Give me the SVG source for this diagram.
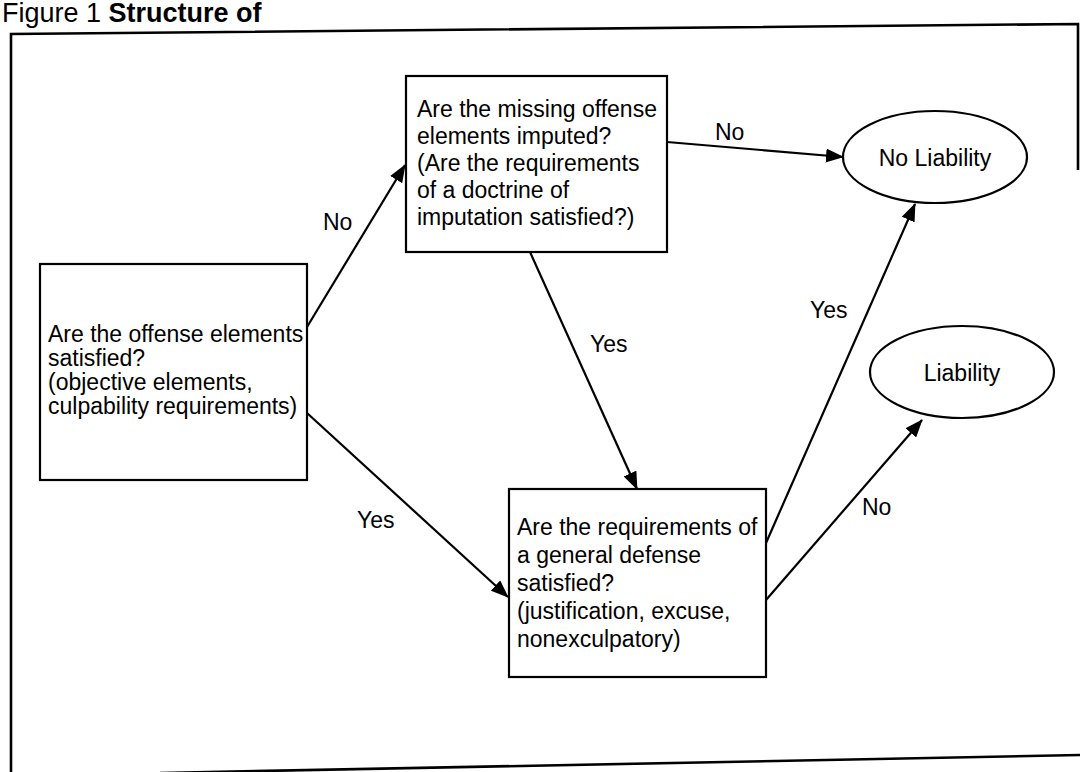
<svg xmlns="http://www.w3.org/2000/svg" width="1080" height="772" viewBox="0 0 1080 772">
<style>
text{font-family:"Liberation Sans",Arial,Helvetica,sans-serif;font-size:23px;fill:#000}
.box{fill:#fff;stroke:#000;stroke-width:2.2}
.con{stroke:#000;stroke-width:2.2;fill:none;marker-end:url(#ah)}
.frame{stroke:#000;stroke-width:2.6;fill:none}
</style>
<defs>
<marker id="ah" markerUnits="userSpaceOnUse" markerWidth="18" markerHeight="14" refX="17" refY="7" orient="auto">
<path d="M0,0 L18,7 L0,14 Z" fill="#000"/>
</marker>
</defs>
<rect width="1080" height="772" fill="#fff"/>
<g id="title">
<text x="2" y="22" style="font-size:27px">Figure 1 <tspan font-weight="bold">Structure of</tspan></text>
</g>
<g id="frame">
<path class="frame" d="M11,772 L11,34 L1078,24 L1078,170"/>
<path class="frame" d="M160,773 L1080,755"/>
</g>
<g id="connectors">
<line class="con" x1="307" y1="327" x2="405" y2="165"/>
<line class="con" x1="307" y1="413" x2="508" y2="597"/>
<line class="con" x1="530" y1="252" x2="637" y2="489"/>
<line class="con" x1="667" y1="142" x2="843" y2="157"/>
<line class="con" x1="766" y1="543" x2="915" y2="204"/>
<line class="con" x1="766" y1="600" x2="922" y2="420"/>
<text x="323" y="230">No</text>
<text x="357" y="528">Yes</text>
<text x="590" y="352">Yes</text>
<text x="715" y="140">No</text>
<text x="810" y="318">Yes</text>
<text x="862" y="515">No</text>
</g>
<g id="offense">
<rect class="box" x="40" y="264" width="267" height="216"/>
<text x="48" y="342">Are the offense elements</text>
<text x="48" y="366">satisfied?</text>
<text x="48" y="390">(objective elements,</text>
<text x="48" y="414">culpability requirements)</text>
</g>
<g id="imputation">
<rect class="box" x="406" y="76" width="261" height="176"/>
<text x="417" y="117">Are the missing offense</text>
<text x="417" y="144">elements imputed?</text>
<text x="417" y="171">(Are the requirements</text>
<text x="417" y="198">of a doctrine of</text>
<text x="417" y="225">imputation satisfied?)</text>
</g>
<g id="defense">
<rect class="box" x="509" y="489" width="257" height="188"/>
<text x="517" y="535">Are the requirements of</text>
<text x="517" y="563">a general defense</text>
<text x="517" y="591">satisfied?</text>
<text x="517" y="619">(justification, excuse,</text>
<text x="517" y="647">nonexculpatory)</text>
</g>
<g id="noliability">
<ellipse class="box" cx="935" cy="157" rx="92" ry="46"/>
<text x="935" y="166" text-anchor="middle">No Liability</text>
</g>
<g id="liability">
<ellipse class="box" cx="962" cy="372" rx="92" ry="46"/>
<text x="962" y="381" text-anchor="middle">Liability</text>
</g>
</svg>
